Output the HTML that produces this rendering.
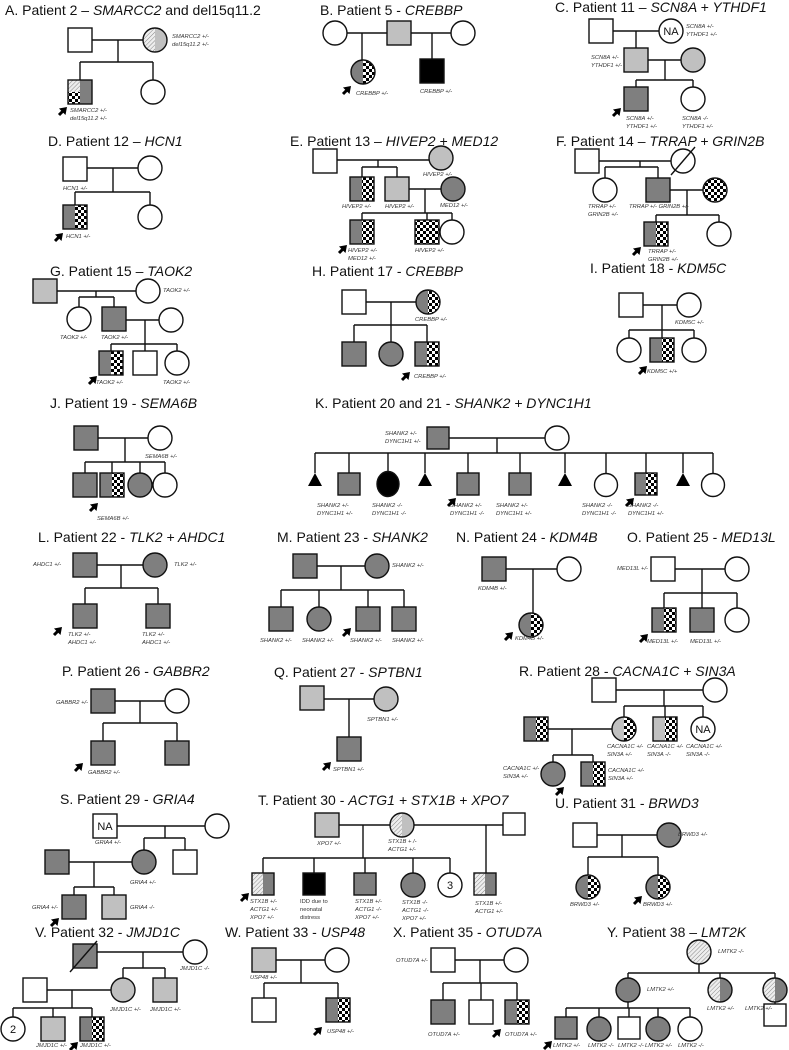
<!DOCTYPE html>
<html><head><meta charset="utf-8"><style>
html,body{margin:0;padding:0;background:#fff;}
svg{display:block;}
.ti{font-family:"Liberation Sans",sans-serif;font-size:14px;fill:#111;}
.lb{font-family:"Liberation Sans",sans-serif;font-size:5.8px;font-style:italic;fill:#333;}
.nm{font-family:"Liberation Sans",sans-serif;font-size:11px;fill:#111;}
</style></head><body>
<svg id="s" width="789" height="1050" viewBox="0 0 789 1050" xmlns="http://www.w3.org/2000/svg">
<defs>
<pattern id="ck" patternUnits="userSpaceOnUse" width="6" height="6"><rect width="6" height="6" fill="#fff"/><rect width="3" height="3" fill="#000"/><rect x="3" y="3" width="3" height="3" fill="#000"/></pattern>
<pattern id="ht" patternUnits="userSpaceOnUse" width="3" height="3" patternTransform="rotate(45)"><rect width="3" height="3" fill="#eee"/><line x1="0" y1="0" x2="0" y2="3" stroke="#888" stroke-width="1"/></pattern>
</defs>
<g id="g"></g>
</svg>
<script>
var D='#7f7f7f',L='#c0c0c0',B='#000',W='#fff',C='url(#ck)',H='url(#ht)';
var o='';
var st='stroke="#111" stroke-width="1.4"';
function sq(x,y,l,r,s){s=s||24;if(r===undefined||r===null){o+='<rect x="'+x+'" y="'+y+'" width="'+s+'" height="'+s+'" fill="'+l+'" '+st+'/>';return;}
o+='<rect x="'+x+'" y="'+y+'" width="'+s/2+'" height="'+s+'" fill="'+l+'"/><rect x="'+(x+s/2)+'" y="'+y+'" width="'+s/2+'" height="'+s+'" fill="'+r+'"/><rect x="'+x+'" y="'+y+'" width="'+s+'" height="'+s+'" fill="none" '+st+'/>';}
function ci(cx,cy,l,r,t,rad){rad=rad||12;if(r===undefined||r===null){o+='<circle cx="'+cx+'" cy="'+cy+'" r="'+rad+'" fill="'+l+'" '+st+'/>';}
else{o+='<path d="M'+cx+' '+(cy-rad)+' A'+rad+' '+rad+' 0 0 0 '+cx+' '+(cy+rad)+' Z" fill="'+l+'"/><path d="M'+cx+' '+(cy-rad)+' A'+rad+' '+rad+' 0 0 1 '+cx+' '+(cy+rad)+' Z" fill="'+r+'"/><circle cx="'+cx+'" cy="'+cy+'" r="'+rad+'" fill="none" '+st+'/>';}
if(t)o+='<text class="nm" x="'+cx+'" y="'+(cy+4)+'" text-anchor="middle">'+t+'</text>';}
function ln(a,b,c,d){o+='<line x1="'+a+'" y1="'+b+'" x2="'+c+'" y2="'+d+'" '+st+'/>';}
function kids(y,xs,ty){ln(Math.min.apply(0,xs),y,Math.max.apply(0,xs),y);xs.forEach(function(x){ln(x,y,x,ty);});}
function tri(cx,ty){o+='<polygon points="'+(cx-7)+','+(ty+13)+' '+(cx+7)+','+(ty+13)+' '+cx+','+ty+'" fill="#000"/>';}
function t(x,y,s){o+='<text class="lb" x="'+x+'" y="'+y+'">'+s+'</text>';}
function t2(x,y,a,b,c){t(x,y,a);if(b)t(x,y+8,b);if(c)t(x,y+16,c);}
function ti(x,y,a,i,b){o+='<text class="ti" x="'+x+'" y="'+y+'">'+a+(i?'<tspan font-style="italic">'+i+'</tspan>':'')+(b||'')+'</text>';}
function ar(x,y){o+='<polygon points="'+x+','+y+' '+(x-8)+','+(y+1.5)+' '+(x-1.5)+','+(y+8)+'" fill="#000"/><line x1="'+(x-3)+'" y1="'+(y+3)+'" x2="'+(x-8)+'" y2="'+(y+8)+'" stroke="#000" stroke-width="3"/>';}

/* A */
ti(5,15,'A. Patient 2 – ','SMARCC2',' and del15q11.2');
sq(68,28,W);ci(155,40,H,L);ln(92,40,143,40);ln(118,40,118,62);kids(62,[80,153],80);
o+='<rect x="68" y="80" width="12" height="12" fill="'+H+'"/><rect x="68" y="92" width="12" height="12" fill="'+C+'"/><rect x="80" y="80" width="12" height="24" fill="'+D+'"/><rect x="68" y="80" width="24" height="24" fill="none" '+st+'/>';
ci(153,92,W);t2(172,38,'SMARCC2 +/-','del15q11.2 +/-');t2(70,112,'SMARCC2 +/-','del15q11.2 +/-');ar(67,107);
/* B */
ti(320,15,'B. Patient 5 - ','CREBBP');
ci(335,33,W);sq(387,21,L);ci(463,33,W);ln(347,33,387,33);ln(411,33,451,33);ln(362,33,362,60);ci(363,72,D,C);ln(432,33,432,59);sq(420,59,B);
t(356,95,'CREBBP +/-');t(420,93,'CREBBP +/-');ar(351,86);
/* C */
ti(555,12,'C. Patient 11 – ','SCN8A + YTHDF1');
sq(589,19,W);ci(671,31,W,null,'NA');ln(613,31,659,31);ln(636,31,636,48);sq(624,48,L);ci(693,60,L);ln(648,60,681,60);ln(665,60,665,80);kids(80,[636,693],87);sq(624,87,D);ci(693,99,W);
t2(686,28,'SCN8A +/-','YTHDF1 +/-');t2(591,59,'SCN8A +/-','YTHDF1 +/-');t2(626,120,'SCN8A +/-','YTHDF1 +/-');t2(682,120,'SCN8A -/-','YTHDF1 +/-');ar(621,108);
/* D */
ti(48,146,'D. Patient 12 – ','HCN1');
sq(63,157,W);ci(150,168,W);ln(87,168,138,168);ln(113,168,113,192);kids(192,[75,150],205);sq(63,205,D,C);ci(150,217,W);
t(63,190,'HCN1 +/-');t(66,238,'HCN1 +/-');ar(63,233);
/* E */
ti(290,146,'E. Patient 13 – ','HIVEP2 + MED12');
sq(313,149,W);ci(441,158,L);ln(337,160,429,160);ln(378,160,378,167);kids(167,[362,397],177);sq(350,177,D,C);sq(385,177,L);ci(453,189,D);ln(409,189,441,189);ln(425,189,425,213);kids(213,[362,427,452],220);sq(350,220,D,C);sq(415,220,C);ci(452,232,W);
t(423,176,'HIVEP2 +/-');t(342,208,'HIVEP2 +/-');t(385,208,'HIVEP2 +/-');t(440,207,'MED12 +/-');t2(348,252,'HIVEP2 +/-','MED12 +/-');t(415,252,'HIVEP2 +/-');ar(347,245);
/* F */
ti(556,146,'F. Patient 14 – ','TRRAP + GRIN2B');
sq(575,149,W);ci(683,161,W);ln(671,175,695,147);ln(599,161,671,161);ln(640,161,640,167);kids(167,[605,658],178);ci(605,190,W);sq(646,178,D);ci(715,190,C);ln(670,190,703,190);ln(687,190,687,215);kids(215,[656,719],222);sq(644,222,D,C);ci(719,234,W);
t2(588,208,'TRRAP +/-','GRIN2B +/-');t(629,208,'TRRAP +/- GRIN2B +/-');t2(648,253,'TRRAP +/-','GRIN2B +/-');ar(641,247);
/* G */
ti(50,276,'G. Patient 15 – ','TAOK2');
sq(33,279,L);ci(148,291,W);ln(57,291,136,291);ln(96,291,96,297);kids(297,[79,114],307);ci(79,319,W);sq(102,307,D);ci(171,320,W);ln(126,320,159,320);ln(145,320,145,344);kids(344,[111,145,177],351);sq(99,351,D,C);sq(133,351,W);ci(177,363,W);
t(163,292,'TAOK2 +/-');t(60,339,'TAOK2 +/-');t(101,339,'TAOK2 +/-');t(96,384,'TAOK2 +/-');t(163,384,'TAOK2 +/-');ar(97,376);
/* H */
ti(312,276,'H. Patient 17 - ','CREBBP');
sq(342,290,W);ci(428,302,D,C);ln(366,302,416,302);ln(391,302,391,325);kids(325,[354,391,427],342);sq(342,342,D);ci(391,354,D);sq(415,342,D,C);
t(415,321,'CREBBP +/-');t(414,378,'CREBBP +/-');ar(410,372);
/* I */
ti(590,273,'I. Patient 18 - ','KDM5C');
sq(619,293,W);ci(689,305,W);ln(643,305,677,305);ln(662,305,662,330);kids(330,[629,662,694],338);ci(629,350,W);sq(650,338,D,C);ci(694,350,W);
t(675,324,'KDM5C +/-');t(647,373,'KDM5C +/+');ar(647,366);
/* J */
ti(50,408,'J. Patient 19 - ','SEMA6B');
sq(74,426,D);ci(160,438,W);ln(98,438,148,438);ln(125,438,125,462);kids(462,[85,112,140,165],473);sq(73,473,D);sq(100,473,D,C);ci(140,485,D);ci(165,485,W);
t(145,458,'SEMA6B +/-');t(97,520,'SEMA6B +/-');ar(98,503);
/* K */
ti(315,408,'K. Patient 20 and 21 - ','SHANK2 + DYNC1H1');
sq(427,427,D,null,22);ci(557,438,W);ln(449,438,545,438);ln(497,438,497,453);
kids(453,[315,349,388,425,468,520,565,606,646,683,713],473);
tri(315,473);sq(338,473,D,null,22);o+='<ellipse cx="388" cy="484" rx="11" ry="12.5" fill="#000" '+st+'/>';tri(425,473);sq(457,473,D,null,22);sq(509,473,D,null,22);tri(565,473);ci(606,485,W,null,null,11.5);sq(635,473,D,C,22);tri(683,473);ci(713,485,W,null,null,11.5);
t2(385,435,'SHANK2 +/-','DYNC1H1 +/-');
t2(317,507,'SHANK2 +/-','DYNC1H1 +/-');t2(372,507,'SHANK2 -/-','DYNC1H1 -/-');t2(450,507,'SHANK2 +/-','DYNC1H1 -/-');t2(496,507,'SHANK2 +/-','DYNC1H1 +/-');t2(582,507,'SHANK2 -/-','DYNC1H1 -/-');t2(628,507,'SHANK2 -/-','DYNC1H1 +/-');
ar(456,498);ar(634,498);
/* L */
ti(38,542,'L. Patient 22 - ','TLK2 + AHDC1');
sq(73,553,D);ci(155,565,D);ln(97,565,143,565);ln(121,565,121,588);kids(588,[85,158],604);sq(73,604,D);sq(146,604,D);
t(33,566,'AHDC1 +/-');t(174,566,'TLK2  +/-');t2(68,636,'TLK2  +/-','AHDC1 +/-');t2(142,636,'TLK2  +/-','AHDC1 +/-');ar(62,627);
/* M */
ti(277,542,'M. Patient 23 - ','SHANK2');
sq(293,554,D);ci(377,566,D);ln(317,566,365,566);ln(341,566,341,590);kids(590,[281,319,368,404],607);sq(269,607,D);ci(319,619,D);sq(356,607,D);sq(392,607,D);
t(392,567,'SHANK2 +/-');t(260,642,'SHANK2 +/-');t(302,642,'SHANK2 +/-');t(350,642,'SHANK2 +/-');t(392,642,'SHANK2 +/-');ar(351,628);
/* N */
ti(456,542,'N. Patient 24 - ','KDM4B');
sq(482,557,D);ci(569,569,W);ln(506,569,557,569);ln(533,569,533,613);ci(531,625,D,C);
t(478,590,'KDM4B +/-');t(515,640,'KDM4B +/-');ar(513,632);
/* O */
ti(627,542,'O. Patient 25 - ','MED13L');
sq(651,557,W);ci(737,569,W);ln(675,569,725,569);ln(702,569,702,593);kids(593,[664,702,737],608);sq(652,608,D,C);sq(690,608,D);ci(737,620,W);
t(617,570,'MED13L +/-');t(647,643,'MED13L +/-');t(690,643,'MED13L +/-');ar(648,634);
/* P */
ti(62,676,'P. Patient 26 - ','GABBR2');
sq(91,689,D);ci(177,701,W);ln(115,701,165,701);ln(140,701,140,723);kids(723,[103,177],741);sq(91,741,D);sq(165,741,D);
t(56,704,'GABBR2 +/-');t(88,774,'GABBR2 +/-');ar(83,763);
/* Q */
ti(274,677,'Q. Patient 27 - ','SPTBN1');
sq(300,686,L);ci(386,699,L);ln(324,699,374,699);ln(349,699,349,737);sq(337,737,D);
t(367,721,'SPTBN1 +/-');t(333,771,'SPTBN1 +/-');ar(331,762);
/* R */
ti(519,676,'R. Patient 28 - ','CACNA1C + SIN3A');
sq(592,678,W);ci(715,690,W);ln(616,690,703,690);ln(664,690,664,706);kids(706,[624,665,703],717);ci(624,729,L,C);sq(653,717,L,C);ci(703,729,W,null,'NA');
sq(524,717,D,C);ln(548,729,612,729);ln(572,729,572,755);kids(755,[553,593],762);ci(553,774,D);sq(581,762,D,C);
t2(607,748,'CACNA1C +/-','SIN3A +/-');t2(647,748,'CACNA1C +/-','SIN3A -/-');t2(686,748,'CACNA1C +/-','SIN3A -/-');t2(503,770,'CACNA1C +/-','SIN3A +/-');t2(608,772,'CACNA1C +/-','SIN3A +/-');ar(564,787);
/* S */
ti(60,804,'S. Patient 29 - ','GRIA4');
sq(93,814,W);o+='<text class="nm" x="105" y="830" text-anchor="middle">NA</text>';ci(217,826,W);ln(117,826,205,826);ln(165,826,165,838);kids(838,[144,185],850);ci(144,862,D);sq(173,850,W);sq(45,850,D);ln(69,862,132,862);ln(94,862,94,887);kids(887,[74,114],895);sq(62,895,D);sq(102,895,L);
t(95,844,'GRIA4 +/-');t(130,884,'GRIA4 +/-');t(32,909,'GRIA4 +/-');t(130,909,'GRIA4 -/-');ar(59,918);
/* T */
ti(258,805,'T. Patient 30 - ','ACTG1 + STX1B + XPO7');
sq(315,813,L);ci(402,825,H,L);sq(503,813,W,null,22);ln(339,825,390,825);ln(414,825,503,825);ln(363,825,363,858);kids(858,[263,314,365,413,450],873);
sq(252,873,H,D,22);sq(303,873,B,null,22);sq(354,873,D,null,22);ci(413,885,D);ci(450,885,W,null,'3');ln(486,825,486,873);sq(474,873,H,D,22);
t(317,845,'XPO7 +/-');t2(388,843,'STX1B + /-','ACTG1 +/-');t2(250,903,'STX1B +/-','ACTG1 +/-','XPO7 +/-');
o+='<text class="lb" style="font-style:normal" x="300" y="903">IDD due to</text><text class="lb" style="font-style:normal" x="300" y="911">neonatal</text><text class="lb" style="font-style:normal" x="300" y="919">distress</text>';
t2(355,903,'STX1B +/-','ACTG1 -/-','XPO7 +/-');t2(402,904,'STX1B -/-','ACTG1 -/-','XPO7 +/-');t2(475,905,'STX1B +/-','ACTG1 +/-');ar(249,893);
/* U */
ti(555,808,'U. Patient 31 - ','BRWD3');
sq(573,823,W);ci(669,835,D);ln(597,835,657,835);ln(622,835,622,857);kids(857,[588,658],875);ci(588,887,D,C);ci(658,887,D,C);
t(678,836,'BRWD3 +/-');t(570,906,'BRWD3 +/-');t(643,906,'BRWD3 +/-');ar(642,896);
/* V */
ti(35,937,'V. Patient 32 - ','JMJD1C');
sq(73,944,D);ln(70,972,97,941);ci(195,952,W);ln(97,952,183,952);ln(143,952,143,968);kids(968,[123,165],978);ci(123,990,L);sq(153,978,L);sq(23,978,W);ln(47,990,111,990);ln(72,990,72,1008);kids(1008,[13,53,92],1017);ci(13,1029,W,null,'2');sq(41,1017,L);sq(80,1017,D,C);
t(180,970,'JMJD1C -/-');t(110,1011,'JMJD1C +/-');t(150,1011,'JMJD1C +/-');t(36,1047,'JMJD1C +/-');t(80,1047,'JMJD1C +/-');ar(78,1042);
/* W */
ti(225,937,'W. Patient 33 - ','USP48');
sq(252,948,L);ci(337,960,W);ln(276,960,325,960);ln(301,960,301,983);kids(983,[264,338],998);sq(252,998,W);sq(326,998,D,C);
t(250,979,'USP48 +/-');t(327,1033,'USP48 +/-');ar(322,1027);
/* X */
ti(393,937,'X. Patient 35 - ','OTUD7A');
sq(431,948,W);ci(516,960,W);ln(455,960,504,960);ln(480,960,480,983);kids(983,[443,481,517],1000);sq(431,1000,D);sq(469,1000,W);sq(505,1000,D,C);
t(396,962,'OTUD7A +/-');t(428,1036,'OTUD7A +/-');t(505,1036,'OTUD7A +/-');ar(501,1029);
/* Y */
ti(607,937,'Y. Patient 38 – ','LMT2K');
ci(699,952,H);ln(699,964,699,973);kids(973,[628,720,775],978);ci(628,990,D);ci(720,990,H,D);ci(775,990,H,D);ln(775,1002,775,1004);sq(764,1004,W,null,22);
ln(628,1002,628,1008);kids(1008,[566,599,629,658,690],1017);sq(555,1017,D,null,22);ci(599,1029,D);sq(618,1017,W,null,22);ci(658,1029,D);ci(690,1029,W);
t(718,953,'LMTK2 -/-');t(647,991,'LMTK2 +/-');t(707,1010,'LMTK2 +/-');t(745,1010,'LMTK2 +/-');
t(553,1047,'LMTK2 +/-');t(588,1047,'LMTK2 -/-');t(618,1047,'LMTK2 -/-');t(645,1047,'LMTK2 +/-');t(678,1047,'LMTK2 -/-');ar(552,1041);
document.getElementById('g').innerHTML=o;
</script>
</body></html>
